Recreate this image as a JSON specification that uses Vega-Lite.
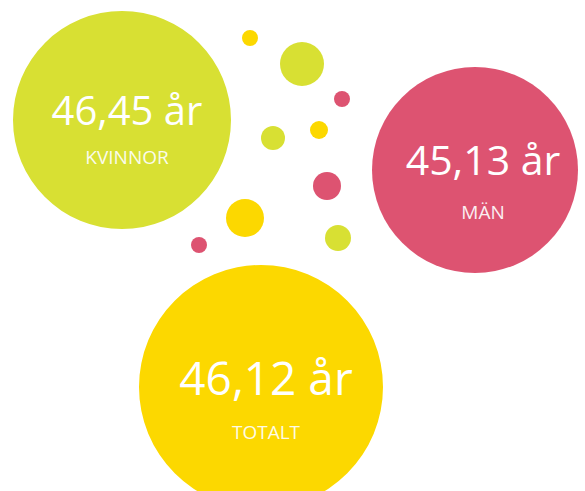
{
  "$schema": "https://vega.github.io/schema/vega-lite/v6.json",
  "width": 585,
  "height": 491,
  "autosize": {"type": "none"},
  "padding": 0,
  "background": "white",
  "config": {"view": {"stroke": null}},
  "datasets": {
    "dots": [
      {"cx": 250, "cy": 38, "r": 8, "group": "yellow"},
      {"cx": 302, "cy": 64, "r": 22, "group": "green"},
      {"cx": 342, "cy": 99, "r": 8, "group": "pink"},
      {"cx": 273, "cy": 138, "r": 12, "group": "green"},
      {"cx": 319, "cy": 130, "r": 9, "group": "yellow"},
      {"cx": 327, "cy": 186, "r": 14, "group": "pink"},
      {"cx": 245, "cy": 218, "r": 19, "group": "yellow"},
      {"cx": 338, "cy": 238, "r": 13, "group": "green"},
      {"cx": 199, "cy": 245, "r": 8, "group": "pink"},
      {"cx": 122, "cy": 120, "r": 109, "group": "green"},
      {"cx": 475, "cy": 170, "r": 103, "group": "pink"},
      {"cx": 261, "cy": 387, "r": 122, "group": "yellow"}
    ],
    "labels": [
      {"cx": 127, "cy": 120, "value": "46,45 år", "label": "KVINNOR"},
      {"cx": 483, "cy": 170, "value": "45,13 år", "label": "MÄN"},
      {"cx": 266, "cy": 387, "value": "46,12 år", "label": "TOTALT"}
    ]
  },
  "encoding": {
    "x": {"field": "cx", "type": "quantitative", "scale": {"domain": [0, 585], "nice": false, "zero": false}, "axis": null},
    "y": {"field": "cy", "type": "quantitative", "scale": {"domain": [0, 491], "nice": false, "zero": false, "reverse": true}, "axis": null}
  },
  "layer": [
    {
      "data": {"name": "dots"},
      "mark": {"type": "point", "shape": "circle", "filled": true, "opacity": 1, "strokeWidth": 0},
      "encoding": {
        "size": {"field": "r", "type": "quantitative", "scale": {"type": "pow", "exponent": 2, "domain": [0, 100], "range": [0, 40000]}, "legend": null},
        "color": {"field": "group", "type": "nominal", "scale": {"domain": ["green", "pink", "yellow"], "range": ["#D8E033", "#DD5371", "#FCD800"]}, "legend": null}
      }
    },
    {
      "data": {"name": "labels"},
      "transform": [{"filter": "datum.label === 'KVINNOR'"}],
      "layer": [
        {"mark": {"type": "text", "font": "Open Sans", "fontSize": 40, "color": "white", "baseline": "alphabetic", "align": "center", "dy": 5},
         "encoding": {"text": {"field": "value"}}},
        {"mark": {"type": "text", "font": "Open Sans", "fontSize": 19, "color": "white", "opacity": 0.9, "baseline": "alphabetic", "align": "center", "dy": 44},
         "encoding": {"text": {"field": "label"}}}
      ]
    },
    {
      "data": {"name": "labels"},
      "transform": [{"filter": "datum.label === 'MÄN'"}],
      "layer": [
        {"mark": {"type": "text", "font": "Open Sans", "fontSize": 41, "color": "white", "baseline": "alphabetic", "align": "center", "dy": 5},
         "encoding": {"text": {"field": "value"}}},
        {"mark": {"type": "text", "font": "Open Sans", "fontSize": 19, "color": "white", "opacity": 0.9, "baseline": "alphabetic", "align": "center", "dy": 49},
         "encoding": {"text": {"field": "label"}}}
      ]
    },
    {
      "data": {"name": "labels"},
      "transform": [{"filter": "datum.label === 'TOTALT'"}],
      "layer": [
        {"mark": {"type": "text", "font": "Open Sans", "fontSize": 46, "color": "white", "baseline": "alphabetic", "align": "center", "dy": 8},
         "encoding": {"text": {"field": "value"}}},
        {"mark": {"type": "text", "font": "Open Sans", "fontSize": 19, "color": "white", "opacity": 0.9, "baseline": "alphabetic", "align": "center", "dy": 52},
         "encoding": {"text": {"field": "label"}}}
      ]
    }
  ]
}
